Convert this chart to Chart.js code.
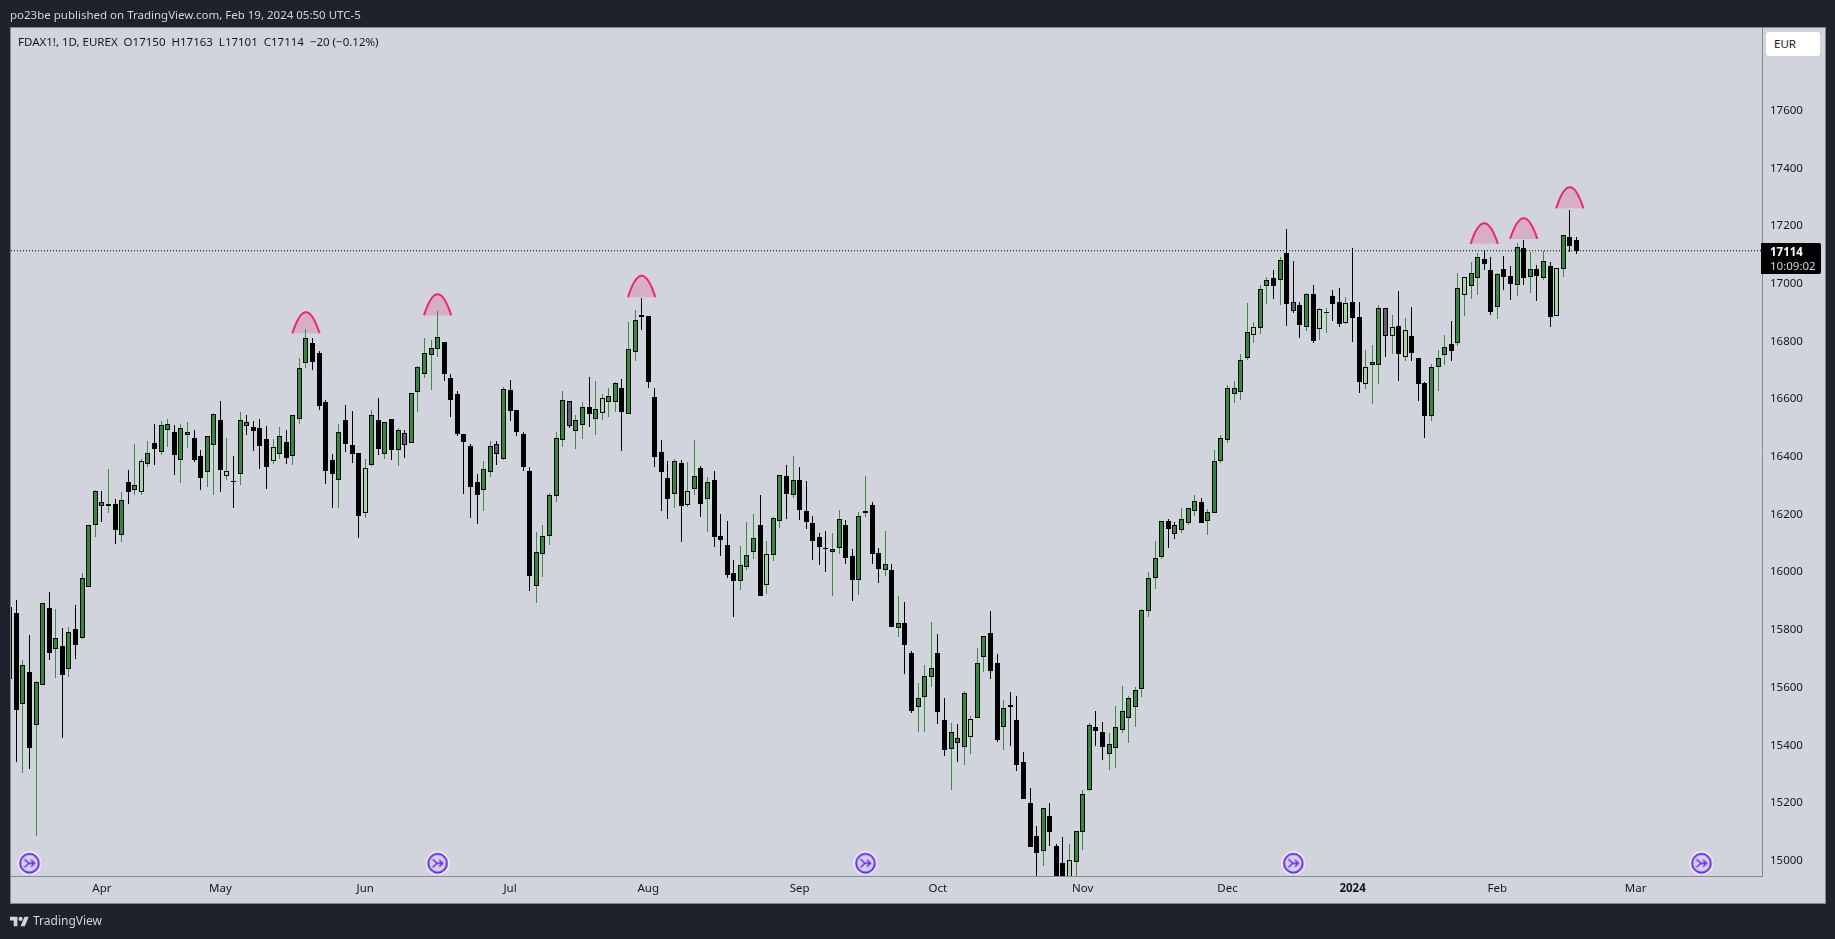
<!DOCTYPE html>
<html>
<head>
<meta charset="utf-8">
<title>FDAX1! 1D</title>
<script src="https://cdn.jsdelivr.net/npm/chart.js@4"></script>
<style>
html,body{margin:0;padding:0;width:1835px;height:939px;overflow:hidden;background:#1e222d;font-family:"Noto Sans",sans-serif}
#panel{position:absolute;left:10px;top:27px;width:1814px;height:875px;background:#d1d4dc;border:1px solid #868993;border-width:1px 1px 1px 1px}
#chart{position:absolute;left:0;top:0}
.txt{position:absolute;white-space:pre;line-height:16px}
#publish{left:10px;top:7px;font-size:11.5px;color:#d1d4dc}
#legend{left:18px;top:34px;font-size:11.5px;color:#131722}
#eur{left:1766px;top:32px;width:54px;height:24px;background:#fff;border-radius:3px;font-size:11.5px;color:#131722;line-height:24px;text-indent:8px}
#price-box{position:absolute;left:1761px;top:243px;width:60px;height:31px;background:#000;border-radius:0 2px 2px 0}
#price{left:1770px;top:244px;font-size:11.5px;font-weight:700;color:#fff}
#timer{left:1770px;top:258px;font-size:11.5px;color:#d1d4dc}
#logo{position:absolute;left:10px;top:915px}
#brand{left:33px;top:913px;font-size:12px;color:#d1d4dc}
</style>
</head>
<body>
<div id="panel"></div>
<canvas id="chart" width="1835" height="939"></canvas>
<div class="txt" id="publish">po23be published on TradingView.com, Feb 19, 2024 05:50 UTC-5</div>
<div class="txt" id="legend">FDAX1!, 1D, EUREX  O17150  H17163  L17101  C17114  −20 (−0.12%)</div>
<div class="txt" id="eur">EUR</div>
<div id="price-box"></div>
<div class="txt" id="price">17114</div>
<div class="txt" id="timer">10:09:02</div>
<svg id="logo" width="19" height="12" viewBox="0 2 36 20"><path fill="#d1d4dc" d="M14 22H7V11H0V4h14v18zM28 22h-8l7.5-18h8L28 22z"/><circle fill="#d1d4dc" cx="20" cy="8" r="4"/></svg>
<div class="txt" id="brand">TradingView</div>
<script>
//----------------------------------DATA----------------------------------------------------------

// one row = 10 daily candles, first candle is cut by the left edge of the pane
const highs = [
    15878,15904,15694,15781,15622,15892,15931,15872,15806,15810,
    15886,15996,16162,16285,16280,16358,16254,16278,16354,16444,
    16392,16455,16514,16524,16531,16510,16514,16520,16493,16423,
    16471,16547,16593,16465,16403,16555,16545,16524,16531,16507,
    16462,16503,16493,16544,16741,16843,16812,16767,16596,16410,
    16512,16579,16559,16412,16392,16561,16604,16519,16530,16499,
    16493,16620,16713,16812,16805,16905,16797,16687,16627,16478,
    16443,16340,16384,16455,16455,16641,16665,16561,16485,16363,
    16138,16162,16273,16485,16627,16592,16544,16589,16675,16661,
    16616,16637,16658,16668,16867,16909,16950,16888,16637,16457,
    16385,16391,16388,16381,16457,16367,16329,16351,16201,16176,
    16041,16090,16173,16201,16266,16107,16190,16336,16370,16402,
    16363,16315,16194,16135,16142,16135,16214,16180,16079,16207,
    16332,16242,16083,16142,16027,15917,15896,15726,15615,15677,
    15826,15785,15563,15476,15473,15587,15501,15736,15778,15864,
    15715,15556,15584,15570,15376,15251,15119,15182,15199,15057,
    15081,15057,15102,15244,15476,15518,15480,15442,15535,15605,
    15570,15601,15871,16000,16107,16176,16183,16173,16224,16224,
    16266,16256,16218,16425,16474,16647,16661,16755,16932,16866,
    16994,17022,17046,17092,17191,17078,16935,16966,16997,16914,
    16914,16977,16984,16952,17122,16938,16770,16787,16925,16914,
    16890,16973,16880,16918,16741,16658,16720,16769,16821,16869,
    17036,17022,17074,17105,17116,17091,17036,17095,17060,17140,
    17150,17109,17064,17112,17074,17053,17168,17255,17163
]
const bodyTops = [
    15878,15857,15677,15653,15618,15892,15875,15771,15744,15791,
    15802,15979,16162,16280,16242,16235,16235,16249,16311,16301,
    16384,16412,16446,16509,16512,16485,16498,16485,16464,16401,
    16471,16547,16526,16349,16316,16526,16519,16502,16498,16460,
    16433,16471,16450,16544,16707,16810,16793,16758,16589,16388,
    16485,16526,16440,16412,16360,16544,16526,16519,16530,16492,
    16481,16620,16710,16758,16776,16814,16797,16672,16616,16478,
    16436,16311,16356,16436,16443,16634,16630,16561,16478,16350,
    16069,16124,16266,16464,16596,16592,16526,16571,16571,16564,
    16603,16609,16655,16637,16772,16873,16890,16888,16606,16415,
    16325,16384,16377,16280,16332,16360,16311,16318,16125,16093,
    15996,16024,16058,16117,16162,16062,16187,16336,16332,16318,
    16318,16211,16169,16121,16084,16079,16183,16162,16055,16194,
    16211,16232,16065,16027,16006,15823,15823,15719,15563,15639,
    15667,15719,15487,15445,15424,15580,15490,15684,15778,15788,
    15684,15528,15539,15487,15341,15199,15085,15182,15154,15050,
    14991,15004,15102,15230,15469,15462,15445,15404,15462,15518,
    15563,15591,15868,15979,16048,16176,16176,16163,16183,16224,
    16245,16242,16207,16387,16464,16637,16640,16737,16831,16848,
    16980,17011,17018,17081,17105,16938,16925,16963,16963,16911,
    16901,16956,16938,16932,16938,16883,16710,16730,16914,16914,
    16848,16852,16841,16817,16741,16654,16710,16744,16779,16790,
    16984,17022,17036,17091,17084,17046,17032,17050,17025,17126,
    17123,17050,17050,17077,17060,17053,17168,17161,17150
]
const bodyBottoms = [
    15629,15523,15544,15392,15471,15610,15721,15735,15645,15666,
    15749,15773,15950,16165,16230,16230,16147,16130,16279,16284,
    16279,16376,16428,16418,16492,16407,16390,16477,16390,16327,
    16348,16440,16355,16334,16314,16341,16508,16490,16438,16366,
    16386,16411,16397,16404,16532,16726,16730,16577,16352,16341,
    16321,16445,16411,16196,16206,16373,16428,16411,16425,16425,
    16442,16449,16626,16688,16754,16775,16688,16598,16480,16452,
    16296,16269,16286,16348,16411,16393,16560,16487,16366,15988,
    15953,16064,16127,16265,16459,16508,16490,16511,16549,16532,
    16553,16591,16591,16556,16549,16762,16886,16660,16400,16348,
    16255,16272,16231,16234,16289,16237,16255,16123,16113,15991,
    15971,15971,16019,16071,15919,15957,16061,16179,16272,16269,
    16217,16175,16109,16088,16082,16071,16085,16050,15974,15974,
    16206,16064,16012,16006,15811,15805,15749,15520,15534,15569,
    15635,15517,15382,15386,15409,15395,15430,15496,15707,15659,
    15420,15465,15534,15333,15215,15049,15025,15035,15101,14900,
    14900,14920,14995,15101,15246,15451,15395,15371,15392,15454,
    15496,15531,15596,15867,15981,16054,16151,16134,16147,16171,
    16213,16171,16178,16204,16387,16459,16616,16625,16743,16823,
    16845,16993,16993,17014,16930,16906,16858,16851,16802,16844,
    16899,16930,16861,16865,16882,16660,16653,16719,16719,16819,
    16819,16757,16747,16761,16653,16542,16542,16712,16754,16768,
    16796,16962,16993,17021,17069,16903,16920,17024,17000,16997,
    17021,17024,17028,17021,16886,16889,17052,17132,17114
]
const lows = [
    15629,15343,15305,15319,15087,15610,15697,15634,15426,15638,
    15700,15769,15950,16123,16175,16206,16099,16106,16237,16269,
    16269,16366,16373,16407,16435,16337,16310,16430,16383,16286,
    16296,16269,16279,16321,16224,16303,16475,16421,16359,16289,
    16376,16393,16376,16373,16514,16708,16701,16562,16306,16222,
    16222,16417,16378,16118,16188,16369,16407,16393,16390,16369,
    16397,16449,16556,16673,16633,16747,16664,16539,16473,16272,
    16188,16168,16213,16331,16373,16390,16525,16473,16352,15936,
    15894,15984,16094,16244,16435,16501,16428,16463,16504,16477,
    16529,16539,16556,16421,16549,16733,16841,16640,16366,16213,
    16185,16224,16106,16226,16269,16192,16140,16088,16057,15981,
    15846,15939,16009,16047,15919,15926,16040,16154,16185,16258,
    16182,16151,16043,16026,16002,15919,16064,16030,15901,15922,
    16192,16030,15964,15988,15811,15777,15648,15513,15447,15447,
    15603,15475,15364,15246,15343,15330,15371,15496,15655,15631,
    15413,15385,15399,15312,15215,15049,14930,14983,15052,14880,
    14870,14900,14930,15038,15243,15399,15350,15316,15323,15444,
    15409,15465,15569,15846,15943,16044,16085,16116,16137,16164,
    16196,16171,16130,16204,16379,16449,16587,16598,16736,16795,
    16826,16930,16948,16927,16854,16899,16813,16837,16795,16806,
    16830,16871,16851,16861,16799,16622,16636,16584,16653,16747,
    16757,16662,16733,16733,16594,16466,16525,16629,16719,16733,
    16785,16889,16948,16962,17049,16893,16879,16979,16945,16958,
    16997,16969,16941,17014,16848,16889,17024,17111,17101
]
// u = up, d = down, p = pale up, g = grey down
const candleKinds = (
    'pduduududu' + 'duuugududu' + 'puduuduudd' + 'uudpdugddd' +
    'puduuudddd' + 'udddpududu' + 'guuuuudddd' + 'dduugudddd' +
    'uuuuuguudu' + 'puuduudddd' + 'dudpududdd' + 'duuudpuudu' +
    'ddddduuddu' + 'uddududduu' + 'uddugupuud' + 'dudddddudd' +
    'dpuuudduuu' + 'uuuuuudguu' + 'uduuuuuuup' + 'uududgdudp' +
    'uddpddpuug' + 'pdpddduuud' + 'upuudduddu' + 'dududpudd'
).split('')

const monthLabels = ['Apr','May','Jun','Jul','Aug','Sep','Oct','Nov','Dec','2024','Feb','Mar']
const monthStarts = [14,32,54,76,97,120,141,163,185,204,226,247]
const priceTicks = [15000,15200,15400,15600,15800,16000,16200,16400,16600,16800,17000,17200,17400,17600]
const lastPrice = 17114

// hand drawn domes on the swing highs
const domeCenters = [45,65,96,224,230,237]
const domeApex = [16901,16963,17027,17209,17227,17334]
const domeBase = [16828,16890,16953,17138,17155,17261]

// session break markers along the bottom
const eventCandles = [3,65,130,195,257]
const eventPrice = 14991

//----------------------------------COLOURS---------------------------------------------------------

const bodyColors = {u:'#2e8b3c', d:'#000000', p:'#a5d6a7', g:'#5d606b'}
const wickColors = {u:'#388e3c', d:'#000000', p:'#388e3c', g:'#000000'}

//----------------------------------CHART-----------------------------------------------------------

function makeEventIcon(){
    let c = document.createElement('canvas')
    c.width = 24
    c.height = 24
    let g = c.getContext('2d')
    g.strokeStyle = '#ffffff'
    g.lineWidth = 1.5
    g.beginPath(); g.arc(12,12,10.9,0,Math.PI*2); g.stroke()
    g.strokeStyle = '#5f1fff'
    g.lineWidth = 2
    g.beginPath(); g.arc(12,12,9.4,0,Math.PI*2); g.stroke()
    g.lineWidth = 1.4
    g.beginPath()
    g.moveTo(7,8); g.lineTo(11.5,12); g.lineTo(7,16)
    g.moveTo(11.5,12); g.lineTo(17,12)
    g.moveTo(13.5,8.5); g.lineTo(17,12); g.lineTo(13.5,15.5)
    g.stroke()
    return c
}

// TradingView snaps candles to whole pixels, so do the same after the scales placed them
const snapCandles = {
    id:'snapCandles',
    afterDatasetsUpdate(chart){
        chart.data.datasets.forEach((ds,n)=>{
            if(ds.type) return
            chart.getDatasetMeta(n).data.forEach((bar)=>{
                bar.x = Math.floor(bar.x) + 0.5
                bar.y = Math.round(bar.y)
                bar.base = Math.round(bar.base)
                if(bar.base - bar.y < 1) bar.base = bar.y + 1
                bar.height = bar.base - bar.y
            })
        })
    }
}

const domes = {
    id:'domes',
    beforeDatasetsDraw(chart){
        let {ctx,scales:{x,y}} = chart
        domeCenters.forEach((center,i)=>{
            let cx = x.getPixelForValue(center)
            let left = x.getPixelForValue(center-2.07)
            let right = x.getPixelForValue(center+2.07)
            let top = y.getPixelForValue(domeApex[i])
            let base = y.getPixelForValue(domeBase[i])
            let ctrl = 2*top - base
            ctx.save()
            ctx.beginPath()
            ctx.moveTo(left,base)
            ctx.quadraticCurveTo(cx,ctrl,right,base)
            ctx.closePath()
            ctx.fillStyle = 'rgba(236,64,122,0.25)'
            ctx.fill()
            ctx.beginPath()
            ctx.moveTo(left,base)
            ctx.quadraticCurveTo(cx,ctrl,right,base)
            ctx.strokeStyle = '#f0256e'
            ctx.lineWidth = 2
            ctx.stroke()
            ctx.restore()
        })
    }
}

const xMin = 0.19
const xMax = 266.2

let wickData = highs.map((h,i)=>({x:i,y:[lows[i],h]}))
let bodyData = bodyTops.map((t,i)=>({x:i,y:[bodyBottoms[i],t]}))

new Chart(document.getElementById('chart'),{
    type:'bar',
    data:{
        datasets:[
            {
                data:wickData,
                grouped:false,
                barThickness:1,
                borderWidth:0,
                inflateAmount:0,
                backgroundColor:candleKinds.map(k=>wickColors[k]),
                order:3
            },
            {
                data:bodyData,
                grouped:false,
                barThickness:5,
                borderWidth:1,
                borderSkipped:false,
                inflateAmount:0,
                borderColor:'#000000',
                backgroundColor:candleKinds.map(k=>bodyColors[k]),
                order:2
            },
            {
                type:'line',
                data:[{x:xMin,y:lastPrice},{x:xMax,y:lastPrice}],
                borderColor:'#000000',
                borderWidth:1,
                borderDash:[1,2],
                pointRadius:0,
                order:4
            },
            {
                type:'scatter',
                data:eventCandles.map(c=>({x:c,y:eventPrice})),
                pointStyle:makeEventIcon(),
                order:1
            }
        ]
    },
    options:{
        responsive:false,
        animation:false,
        events:[],
        layout:{padding:{left:11,top:28,right:10,bottom:36}},
        plugins:{legend:{display:false},tooltip:{enabled:false}},
        scales:{
            x:{
                type:'linear',
                offset:false,
                min:xMin,
                max:xMax,
                grid:{display:false,offset:false,drawTicks:false},
                border:{color:'#868993'},
                afterBuildTicks:(axis)=>{axis.ticks = monthStarts.map(v=>({value:v}))},
                afterFit:(axis)=>{axis.height = 27},
                ticks:{
                    autoSkip:false,
                    maxRotation:0,
                    padding:6,
                    color:'#131722',
                    font:(ctx)=>({family:'"Noto Sans"',size:11.5,weight:ctx.tick && ctx.tick.value==204 ? '700' : '400'}),
                    callback:(v)=>monthLabels[monthStarts.indexOf(v)]
                }
            },
            y:{
                position:'right',
                min:14947,
                max:17886,
                grid:{display:false,drawTicks:false},
                border:{color:'#868993'},
                afterBuildTicks:(axis)=>{axis.ticks = priceTicks.map(v=>({value:v}))},
                afterFit:(axis)=>{axis.width = 63},
                ticks:{
                    padding:8,
                    color:'#131722',
                    font:{family:'"Noto Sans"',size:11.5},
                    callback:(v)=>String(v)
                }
            }
        }
    },
    plugins:[snapCandles,domes]
})
</script>
</body>
</html>
